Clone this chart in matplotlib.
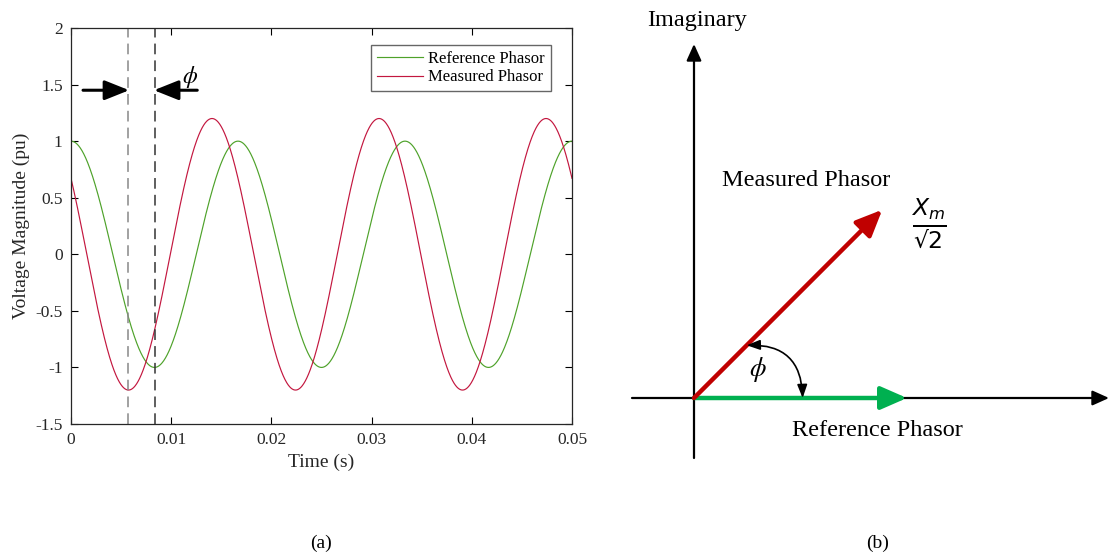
import numpy as np
import matplotlib
matplotlib.use("Agg")
import matplotlib.pyplot as plt
from matplotlib.patches import FancyArrowPatch

# ---------------- data ----------------
series_names = ["Reference Phasor", "Measured Phasor"]
amplitudes = [1.0, 1.2]          # pu
phases_deg = [0.0, 56.0]         # degrees (cosine reference)
frequency_hz = 60.0
t_start, t_end = 0.0, 0.05
marker_times = [0.0057, 0.00838]  # dashed marker lines (minima)
phi_arrow_y = 1.45

xticks = [0, 0.01, 0.02, 0.03, 0.04, 0.05]
xticklabels = ["0", "0.01", "0.02", "0.03", "0.04", "0.05"]
yticks = [-1.5, -1, -0.5, 0, 0.5, 1, 1.5, 2]
yticklabels = ["-1.5", "-1", "-0.5", "0", "0.5", "1", "1.5", "2"]

# phasor diagram
ref_mag = 1.0
meas_mag = 1.25
meas_angle_deg = 45.0

colors = ["#4ea22a", "#c3173f"]
W, H = 1110, 555
serif = ["Liberation Serif", "DejaVu Serif"]
plt.rcParams["font.family"] = serif
plt.rcParams["mathtext.fontset"] = "stix"

fig = plt.figure(figsize=(W / 100, H / 100), dpi=100)

# ---------------- (a) time-domain ----------------
ax = fig.add_axes([71 / W, 1 - 424 / H, (572 - 71) / W, (424 - 28) / H])
t = np.linspace(t_start, t_end, 2001)
for name, A, p, c in zip(series_names, amplitudes, phases_deg, colors):
    ax.plot(t, A * np.cos(2 * np.pi * frequency_hz * t + np.deg2rad(p)),
            color=c, lw=0.85, label=name)
ax.set_xlim(t_start, t_end)
ax.set_ylim(-1.5, 2)
ax.set_xticks(xticks)
ax.set_xticklabels(xticklabels)
ax.set_yticks(yticks)
ax.set_yticklabels(yticklabels)
ax.tick_params(direction="in", length=5, width=0.8, top=True, right=True,
               labelsize=12.5, labelcolor="#262626", pad=6)
for s in ax.spines.values():
    s.set_linewidth(0.9)
    s.set_color("#262626")
ax.set_xlabel("Time (s)", fontsize=14, color="#262626", labelpad=4)
ax.set_ylabel("Voltage Magnitude (pu)", fontsize=14, color="#262626", labelpad=4)

ax.axvline(marker_times[0], color="#888888", lw=1.1, ls=(0, (7, 4)))
ax.axvline(marker_times[1], color="#333333", lw=1.1, ls=(0, (7, 4)))

arrow_kw = dict(arrowstyle="-|>,head_length=1.5,head_width=0.6", mutation_scale=10,
                color="black", lw=2.2, shrinkA=0, shrinkB=0)
ax.add_patch(FancyArrowPatch((0.0012, phi_arrow_y), (marker_times[0] + 0.0001, phi_arrow_y), **arrow_kw))
ax.add_patch(FancyArrowPatch((0.0126, phi_arrow_y), (marker_times[1] - 0.0001, phi_arrow_y), **arrow_kw))
ax.text(0.0119, 1.57, r"$\phi$", fontsize=17, ha="center", va="center")

leg = ax.legend(loc="upper right", bbox_to_anchor=(0.958, 0.957), fontsize=12,
                handlelength=2.8, handletextpad=0.3, borderpad=0.35,
                borderaxespad=0.0, labelspacing=0.15, fancybox=False, framealpha=1)
leg.get_frame().set_edgecolor("#666666")
leg.get_frame().set_linewidth(1.0)

fig.text(321 / W, 1 - 543 / H, "(a)", fontsize=14, ha="center", va="center")
fig.text(878 / W, 1 - 543 / H, "(b)", fontsize=14, ha="center", va="center")

# ---------------- (b) phasor diagram ----------------
u = 213.0  # pixels per unit
ox, oy = 694.0, 398.0
bx = fig.add_axes([620 / W, 0, 490 / W, 1])
bx.set_xlim((620 - ox) / u, (1110 - ox) / u)
bx.set_ylim((oy - H) / u, oy / u)
bx.axis("off")

axis_kw = dict(arrowstyle="-|>,head_length=1.0,head_width=0.45", mutation_scale=10,
               color="black", lw=1.6, shrinkA=0, shrinkB=0)
bx.add_patch(FancyArrowPatch(((632 - ox) / u, 0), ((1109 - ox) / u, 0), **axis_kw))
bx.add_patch(FancyArrowPatch((0, (oy - 458) / u), (0, (oy - 44) / u), **axis_kw))

ph_kw = dict(arrowstyle="-|>,head_length=1.6,head_width=0.7", mutation_scale=10,
             lw=3.2, shrinkA=0, shrinkB=0)
bx.add_patch(FancyArrowPatch((0, 0), (ref_mag, 0), color="#00b050", **ph_kw))
a = np.deg2rad(meas_angle_deg)
bx.add_patch(FancyArrowPatch((0, 0), (meas_mag * np.cos(a), meas_mag * np.sin(a)),
                             color="#c00000", **ph_kw))

r1, r2 = 0.35, 0.51
arc = FancyArrowPatch((r1 * np.cos(a), r1 * np.sin(a)), (r2, 0.0),
                      connectionstyle="arc3,rad=-0.5",
                      arrowstyle="<|-|>,head_length=0.8,head_width=0.3",
                      mutation_scale=10, color="black", lw=1.2,
                      shrinkA=0, shrinkB=0)
bx.add_patch(arc)

bx.text((697 - ox) / u, (oy - 20) / u, "Imaginary", fontsize=17.5, ha="center", va="center")
bx.text((806 - ox) / u, (oy - 180) / u, "Measured Phasor", fontsize=17.5, ha="center", va="center")
bx.text((877 - ox) / u, (oy - 430) / u, "Reference Phasor", fontsize=17.5, ha="center", va="center")
bx.text((758 - ox) / u, (oy - 370) / u, r"$\phi$", fontsize=19, ha="center", va="center")
bx.text((929 - ox) / u, (oy - 224) / u, "$\\frac{X_m}{\u221a2}$",
        fontsize=24, ha="center", va="center",
        math_fontfamily="dejavusans")

fig.savefig("out.png", dpi=100)
